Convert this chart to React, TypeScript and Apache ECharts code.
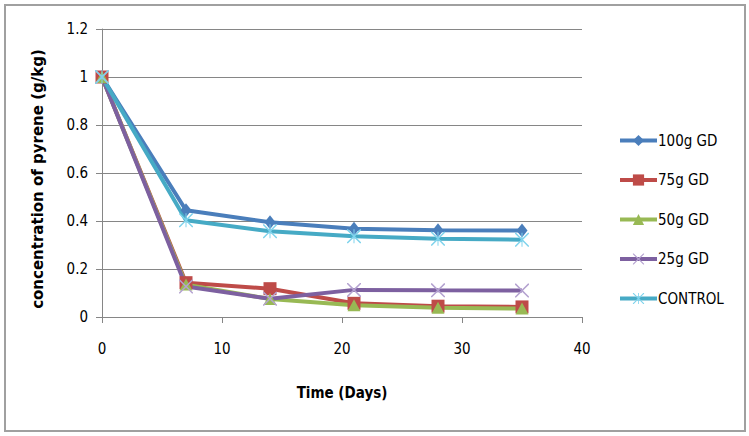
import React, { useEffect, useRef } from "react";
import * as echarts from "echarts";

const days = [0, 7, 14, 21, 28, 35];
const s100 = [1, 0.445, 0.395, 0.368, 0.361, 0.36];
const s75 = [1, 0.143, 0.118, 0.057, 0.045, 0.042];
const s50 = [1, 0.135, 0.075, 0.049, 0.039, 0.035];
const s25 = [1, 0.127, 0.076, 0.113, 0.111, 0.11];
const sControl = [1, 0.403, 0.357, 0.336, 0.326, 0.322];
const seriesNames = ["100g GD", "75g GD", "50g GD", "25g GD", "CONTROL"];
const xTicks = [0, 10, 20, 30, 40];
const yTitle = "concentration of pyrene (g/kg)";

const crossPath =
  "path://M0,0 L1.5,0 L10,8.5 L18.5,0 L20,0 L20,1.5 L11.5,10 L20,18.5 L20,20 L18.5,20 L10,11.5 L1.5,20 L0,20 L0,18.5 L8.5,10 L0,1.5 Z";
const starPath =
  "path://M0,0 L1.5,0 L10,8.5 L18.5,0 L20,0 L20,1.5 L11.5,10 L20,18.5 L20,20 L18.5,20 L10,11.5 L1.5,20 L0,20 L0,18.5 L8.5,10 L0,1.5 Z M9.3,0 L10.7,0 L10.7,20 L9.3,20 Z";

const NARROW = "'DejaVu Sans Condensed', 'Liberation Sans Narrow', 'Liberation Sans', sans-serif";

export default function App() {
  const ref = useRef<HTMLDivElement>(null);
  useEffect(() => {
    if (!ref.current) return;
    const chart = echarts.init(ref.current, undefined, { renderer: "svg" });
    const mk = (vals: number[]) => days.map((d, i) => [d, vals[i]]);
    const cols = ["#4A7EBB", "#BE4B48", "#98B954", "#7D60A0", "#46AAC5"];
    const symbols = ["diamond", "rect", "triangle", crossPath, starPath];
    const sizes: any[] = [[11, 14], 13, [13, 12], 14, 14];
    const symColors = ["#4A7EBB", "#BE4B48", "#98B954", "#B4A2D0", "#7FD3EC"];
    const datas = [s100, s75, s50, s25, sControl];
    chart.setOption({
      animation: false,
      grid: { left: 102, right: 167, top: 29, bottom: 119 },
      graphic: [
        {
          type: "rect",
          shape: { x: 5, y: 5, width: 740, height: 426 },
          style: { fill: "none", stroke: "#A0A0A0", lineWidth: 2 },
        },
        {
          type: "text",
          x: 38,
          y: 179,
          rotation: Math.PI / 2,
          style: {
            text: yTitle,
            fontFamily: "DejaVu Sans",
            fontWeight: "bold",
            fontSize: 15,
            fill: "#000",
            align: "center",
            verticalAlign: "middle",
          },
        },
      ],
      legend: {
        orient: "vertical",
        left: 613,
        top: 128,
        itemWidth: 37,
        itemHeight: 14,
        itemGap: 24.5,
        data: seriesNames,
        lineStyle: { width: 4 },
        textStyle: { fontFamily: NARROW, fontSize: 15, color: "#000", padding: [0, 0, 0, -4] },
      },
      xAxis: {
        type: "value",
        min: 0,
        max: 40,
        interval: 10,
        name: "Time (Days)",
        nameLocation: "middle",
        nameGap: 68,
        nameTextStyle: { fontFamily: NARROW, fontWeight: "bold", fontSize: 15, color: "#000" },
        axisLine: { lineStyle: { color: "#868686", width: 1 } },
        axisTick: { show: true, inside: false, length: 6, lineStyle: { color: "#868686" } },
        axisLabel: {
          margin: 24,
          fontFamily: NARROW,
          fontSize: 15,
          color: "#000",
          customValues: xTicks,
        },
        splitLine: { show: false },
      },
      yAxis: {
        type: "value",
        min: 0,
        max: 1.2,
        interval: 0.2,
        axisLine: { show: true, lineStyle: { color: "#868686", width: 1 } },
        axisTick: { show: true, inside: false, length: 6, lineStyle: { color: "#868686" } },
        axisLabel: { margin: 14, fontFamily: NARROW, fontSize: 15, color: "#000" },
        splitLine: { show: true, lineStyle: { color: "#868686", width: 1 } },
      },
      series: seriesNames.map((n, i) => ({
        name: n,
        type: "line",
        data: mk(datas[i]),
        symbol: symbols[i],
        symbolSize: sizes[i],
        showSymbol: true,
        lineStyle: { color: cols[i], width: 4 },
        itemStyle: { color: symColors[i] },
        emphasis: { disabled: true },
      })),
    });
    return () => chart.dispose();
  }, []);
  return (
    <div
      ref={ref}
      style={{ position: "fixed", left: 0, top: 0, width: 749, height: 436, background: "#fff" }}
    />
  );
}
